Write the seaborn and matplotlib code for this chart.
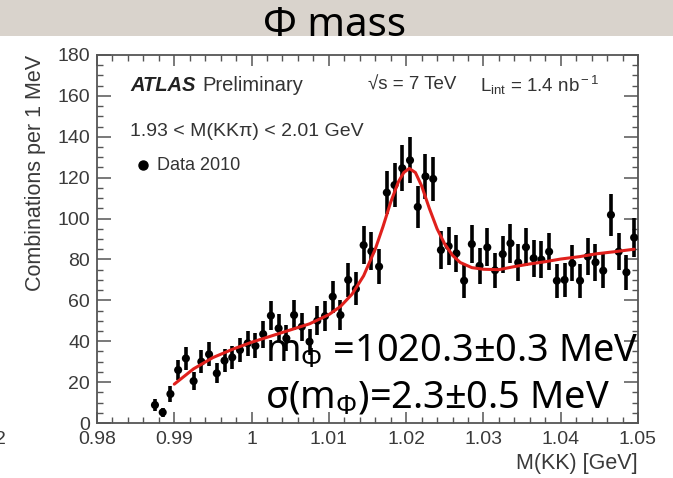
import numpy as np
import pandas as pd
import seaborn as sns
import matplotlib
matplotlib.use("Agg")
import matplotlib.pyplot as plt
from matplotlib.patches import Rectangle
from matplotlib.ticker import MultipleLocator, FixedLocator, FixedFormatter

# ---------------- data ----------------
mkk = [0.9875, 0.9885, 0.9895, 0.9905, 0.9915, 0.9925, 0.9935, 0.9945, 0.9955, 0.9965,
       0.9975, 0.9985, 0.9995, 1.0005, 1.0015, 1.0025, 1.0035, 1.0045, 1.0055, 1.0065,
       1.0075, 1.0085, 1.0095, 1.0105, 1.0115, 1.0125, 1.0135, 1.0145, 1.0155, 1.0165,
       1.0175, 1.0185, 1.0195, 1.0205, 1.0215, 1.0225, 1.0235, 1.0245, 1.0255, 1.0265,
       1.0275, 1.0285, 1.0295, 1.0305, 1.0315, 1.0325, 1.0335, 1.0345, 1.0355, 1.0365,
       1.0375, 1.0385, 1.0395, 1.0405, 1.0415, 1.0425, 1.0435, 1.0445, 1.0455, 1.0465,
       1.0475, 1.0485, 1.0495]
counts = [8.8, 5.2, 14.2, 25.9, 31.6, 20.5, 30.0, 33.6, 24.3, 30.5,
          32.1, 35.7, 39.0, 37.7, 43.5, 52.5, 46.3, 41.4, 52.8, 47.1,
          39.8, 50.0, 52.3, 61.8, 52.8, 70.0, 65.6, 87.0, 84.0, 76.5,
          112.7, 116.4, 124.6, 128.5, 105.7, 120.6, 119.4, 84.6, 86.5, 83.0,
          69.6, 87.5, 76.9, 85.9, 74.7, 82.6, 87.9, 78.5, 86.0, 80.6,
          79.9, 83.8, 69.6, 70.0, 78.1, 69.6, 81.4, 78.6, 74.5, 101.8,
          83.8, 73.7, 90.7]
errors = [3.0, 2.3, 3.8, 5.1, 5.6, 4.5, 5.5, 5.8, 4.9, 5.5,
          5.7, 6.0, 6.2, 6.1, 6.6, 7.2, 6.8, 6.4, 7.3, 6.9,
          6.3, 7.1, 7.2, 7.9, 7.3, 8.4, 8.1, 9.3, 9.2, 8.7,
          10.6, 10.8, 11.2, 11.3, 10.3, 11.0, 10.9, 9.2, 9.3, 9.1,
          8.3, 9.4, 8.8, 9.3, 8.6, 9.1, 9.4, 8.9, 9.3, 9.0,
          8.9, 9.2, 8.3, 8.4, 8.8, 8.3, 9.0, 8.9, 8.6, 10.1,
          9.2, 8.6, 9.5]

fit_x = [0.9900, 0.9925, 0.9950, 0.9975, 1.0000, 1.0025, 1.0050, 1.0075, 1.0100, 1.0115,
         1.0130, 1.0145, 1.0160, 1.0170, 1.0180, 1.0190, 1.0197, 1.0204, 1.0212, 1.0220,
         1.0230, 1.0240, 1.0250, 1.0260, 1.0270, 1.0285, 1.0300, 1.0320, 1.0340, 1.0360,
         1.0380, 1.0400, 1.0425, 1.0445, 1.0470, 1.0495]
fit_y = [19.0, 26.5, 32.0, 36.0, 39.5, 42.5, 45.5, 48.5, 53.0, 57.0,
         63.0, 72.0, 85.0, 96.0, 108.0, 118.0, 122.5, 124.5, 122.5, 116.0,
         105.0, 95.0, 87.5, 82.0, 78.5, 76.0, 75.2, 75.0, 76.5, 77.8,
         78.9, 80.2, 81.4, 82.7, 83.8, 85.0]

xtick_vals = [0.98, 0.99, 1.00, 1.01, 1.02, 1.03, 1.04, 1.05]
xtick_labels = ["0.98", "0.99", "1", "1.01", "1.02", "1.03", "1.04", "1.05"]
ytick_vals = [0, 20, 40, 60, 80, 100, 120, 140, 160, 180]

title_text = "Φ mass"
ann_line1 = r"m$_{\Phi}$ =1020.3±0.3 MeV"
ann_line2 = r"σ(m$_{\Phi}$)=2.3±0.5 MeV"

# ---------------- style ----------------
sns.set_theme(style="ticks")
plt.rcParams["font.family"] = ["Liberation Sans", "DejaVu Sans"]
plt.rcParams["mathtext.fontset"] = "custom"
plt.rcParams["mathtext.rm"] = "Liberation Sans"
plt.rcParams["mathtext.it"] = "Liberation Sans:italic"
plt.rcParams["mathtext.bf"] = "Liberation Sans:bold"

W, H = 673, 478
fig = plt.figure(figsize=(W / 100, H / 100), dpi=100, facecolor="white")

# marble strip at top
fig.patches.append(Rectangle((0, 1 - 36 / H), 1, 36 / H, transform=fig.transFigure,
                             facecolor="#d9d3cc", edgecolor="none", zorder=0))

ax = fig.add_axes([97 / W, 1 - 423 / H, (638 - 97) / W, (423 - 55) / H])
ax.set_facecolor("white")

df = pd.DataFrame({"mkk": mkk, "counts": counts, "err": errors})
fit_df = pd.DataFrame({"x": fit_x, "y": fit_y})

ax.errorbar(df["mkk"], df["counts"], yerr=df["err"], fmt="none", ecolor="black",
            elinewidth=2.6, capsize=0, zorder=3)
sns.scatterplot(data=df, x="mkk", y="counts", color="black", s=34, edgecolor="none",
                ax=ax, zorder=4)
sns.lineplot(data=fit_df, x="x", y="y", color="#e0201c", linewidth=2.2, ax=ax,
             zorder=5, sort=False)

ax.set_xlim(0.98, 1.05)
ax.set_ylim(0, 180)

tick_col = "#3a3a3a"
ax.xaxis.set_major_locator(FixedLocator(xtick_vals))
ax.xaxis.set_major_formatter(FixedFormatter(xtick_labels))
ax.xaxis.set_minor_locator(MultipleLocator(0.002))
ax.yaxis.set_major_locator(FixedLocator(ytick_vals))
ax.yaxis.set_minor_locator(MultipleLocator(5))
ax.tick_params(axis="both", which="both", direction="in", top=True, right=True,
               colors="#555555", labelcolor=tick_col, labelsize=14)
ax.tick_params(axis="x", which="major", length=8, width=1.1, pad=6)
ax.tick_params(axis="y", which="major", length=10, width=1.1, pad=5)
ax.tick_params(axis="both", which="minor", length=4.5, width=1.0)
for sp in ax.spines.values():
    sp.set_color("#555555")
    sp.set_linewidth(1.3)

ax.set_xlabel("M(KK) [GeV]", fontsize=15.5, color=tick_col, loc="right", labelpad=3)
ax.set_ylabel("Combinations per 1 MeV", fontsize=15.5, color=tick_col, loc="top",
              labelpad=8)

# ATLAS labels
ax.text(0.061, 0.918, "ATLAS", transform=ax.transAxes, fontsize=14.5, fontweight="bold",
        fontstyle="italic", color="#222222", va="center", ha="left")
ax.text(0.195, 0.918, "Preliminary", transform=ax.transAxes, fontsize=14.5,
        color="#333333", va="center", ha="left")
ax.text(0.50, 0.918, "√s = 7 TeV", transform=ax.transAxes, fontsize=13.5,
        color="#333333", va="center", ha="left")
ax.text(0.708, 0.918, r"L$_{\rm int}$ = 1.4 nb$^{\rm -1}$", transform=ax.transAxes,
        fontsize=13.5, color="#333333", va="center", ha="left")
ax.text(0.061, 0.791, "1.93 < M(KKπ) < 2.01 GeV", transform=ax.transAxes, fontsize=14,
        color="#333333", va="center", ha="left")
ax.plot([(143 - 97) / 541], [(423 - 165) / 368], marker="o", color="black",
        markersize=6.5, transform=ax.transAxes, clip_on=False)
ax.text((157 - 97) / 541, (423 - 165) / 368, "Data 2010", transform=ax.transAxes,
        fontsize=13, color="#333333", va="center", ha="left")

# slide title and annotation
fig.text(335 / W, 1 - 26 / H, title_text, fontsize=29, color="black",
         ha="center", va="center", family=["Noto Sans", "DejaVu Sans"], zorder=10)
fig.text(265 / W, 1 - 352 / H, ann_line1, fontsize=27.3, color="black",
         ha="left", va="center", family=["Noto Sans", "DejaVu Sans"], zorder=10)
fig.text(265 / W, 1 - 398 / H, ann_line2, fontsize=27.3, color="black",
         ha="left", va="center", family=["Noto Sans", "DejaVu Sans"], zorder=10)

# cut-off character at the left edge
fig.text(0, 1 - 440 / H, "2", fontsize=14, color="#3a3a3a", ha="center", va="center")

fig.savefig("out.png", dpi=100, facecolor="white")
